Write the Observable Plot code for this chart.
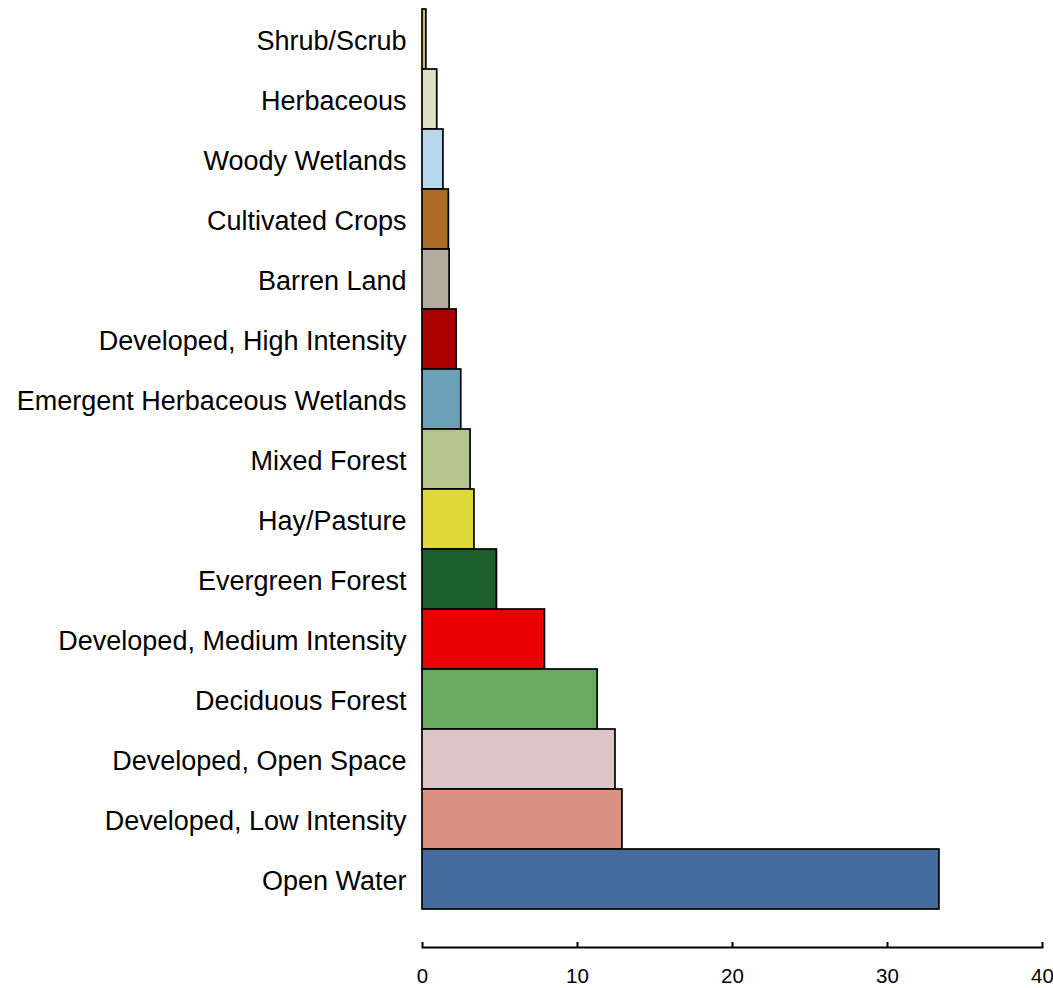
<!DOCTYPE html>
<html>
<head>
<meta charset="utf-8">
<script src="https://cdn.jsdelivr.net/npm/d3@7"></script>
<script src="https://cdn.jsdelivr.net/npm/@observablehq/plot@0.6"></script>
<style>
  html, body { margin: 0; padding: 0; background: #fff; }
  svg { font-family: "Liberation Sans", Arial, sans-serif; display: block; }
</style>
</head>
<body>
<div id="chart"></div>
<script>
const categories = [
  "Shrub/Scrub", "Herbaceous", "Woody Wetlands", "Cultivated Crops", "Barren Land",
  "Developed, High Intensity", "Emergent Herbaceous Wetlands", "Mixed Forest", "Hay/Pasture",
  "Evergreen Forest", "Developed, Medium Intensity", "Deciduous Forest",
  "Developed, Open Space", "Developed, Low Intensity", "Open Water"
];
const values = [0.25, 0.95, 1.35, 1.7, 1.75, 2.2, 2.5, 3.1, 3.35, 4.8, 7.9, 11.3, 12.45, 12.9, 33.35];
const colors = [
  "#ccb879", "#dfdfc2", "#b8d9eb", "#ab6c28", "#b3ac9f",
  "#ab0000", "#6c9fb8", "#b5c58f", "#dcd939",
  "#1c5f2c", "#eb0000", "#68ab5f",
  "#dec5c5", "#d99282", "#466b9f"
];
const xTicks = [0, 10, 20, 30, 40];

const data = categories.map((name, i) => ({name, value: values[i], color: colors[i]}));

const chart = Plot.plot({
  width: 1053,
  height: 988,
  marginLeft: 422,
  marginRight: 11,
  marginTop: 5,
  marginBottom: 41,
  style: {fontFamily: "'Liberation Sans', Arial, sans-serif", fontSize: "20.5px", color: "#000", background: "#fff"},
  x: {domain: [0, 40]},
  y: {domain: categories, padding: 0, insetBottom: 35},
  color: {type: "identity"},
  marks: [
    Plot.barX(data, {x: "value", y: "name", fill: "color", stroke: "#000", strokeWidth: 1.7}),
    Plot.frame({anchor: "bottom", strokeWidth: 2, stroke: "#000"}),
    Plot.axisX({ticks: xTicks, tickSize: -5, tickPadding: 25.5, strokeWidth: 2, tickFormat: d => String(d), label: null}),
    Plot.axisY({tickSize: 0, tickPadding: 16, fontSize: 27, dy: 2, label: null})
  ]
});
document.getElementById("chart").appendChild(chart);
</script>
</body>
</html>
